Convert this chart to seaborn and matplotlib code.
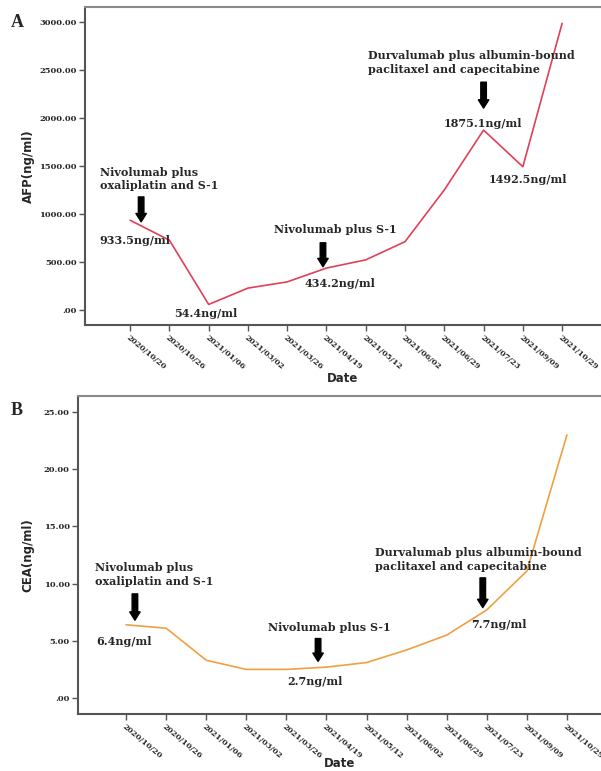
import matplotlib.pyplot as plt
import numpy as np
import pandas as pd
import seaborn as sns

dates = ["2020/10/20", "2020/10/26", "2021/01/06", "2021/03/02", "2021/03/26",
         "2021/04/19", "2021/05/12", "2021/06/02", "2021/06/29", "2021/07/23",
         "2021/09/09", "2021/10/29"]
afp = [933.5, 725, 54.4, 225, 290, 434.2, 520, 710, 1250, 1875.1, 1492.5, 2990]
cea = [6.4, 6.1, 3.3, 2.5, 2.5, 2.7, 3.1, 4.2, 5.5, 7.7, 11.1, 23.0]
afp_ticks = [0, 500, 1000, 1500, 2000, 2500, 3000]
cea_ticks = [0, 5, 10, 15, 20, 25]

df = pd.DataFrame({"pos": np.arange(len(dates)), "date": dates, "afp": afp, "cea": cea})

sns.set_style("white")
plt.rcParams["font.family"] = ["DejaVu Sans"]

serif = "DejaVu Serif"
fig = plt.figure(figsize=(6.01, 7.71), dpi=100)
ax1 = fig.add_axes([0.1414, 0.5785, 0.8586, 0.4124])
ax2 = fig.add_axes([0.1298, 0.0739, 0.8702, 0.4125])


def style_axes(ax, ticks, ylim, xlim, ylabel, ylab_x, xlab_y):
    ax.set_xlim(*xlim)
    ax.set_ylim(*ylim)
    ax.set_yticks(ticks)
    ax.set_yticklabels([".00" if t == 0 else f"{t:.2f}" for t in ticks],
                       family=serif, fontweight="bold", fontsize=6)
    ax.set_xticks(df["pos"])
    ax.set_xticklabels(df["date"], rotation=-40, ha="left", rotation_mode="anchor",
                       family=serif, fontweight="bold", fontsize=5.6)
    ax.tick_params(axis="both", length=4, width=1, color="#555555", pad=2,
                   bottom=True, left=True)
    ax.set_ylabel(ylabel, fontsize=8.5, fontweight="bold", va="center")
    ax.set_xlabel("Date", fontsize=8.5, fontweight="bold", va="center")
    ax.yaxis.set_label_coords(ylab_x, 0.5)
    ax.xaxis.set_label_coords(0.5, xlab_y)
    for s in ["left", "bottom"]:
        ax.spines[s].set_color("#555555")
        ax.spines[s].set_linewidth(1.5)
    ax.spines["top"].set_color("#8a8a8a")
    ax.spines["top"].set_linewidth(1.5)
    ax.spines["right"].set_visible(False)


def note(ax, text, x, y, **kw):
    ax.text(x, y, text, family=serif, fontweight="bold", fontsize=8, **kw)


def arrow(ax, x, y0, y1):
    ax.annotate("", xy=(x, y1), xytext=(x, y0),
                arrowprops=dict(arrowstyle="simple,head_width=0.75,head_length=0.6,tail_width=0.4",
                                color="black", shrinkA=0, shrinkB=0))


sns.lineplot(data=df, x="pos", y="afp", ax=ax1, color="#e0405a", linewidth=1.2)
style_axes(ax1, afp_ticks, (-160, 3160), (-1.15, 11.99), "AFP(ng/ml)", -0.11, -0.167)

note(ax1, "Nivolumab plus\noxaliplatin and S-1", -0.76, 1365, va="center", linespacing=1.3)
arrow(ax1, 0.28, 1177, 917)
note(ax1, "933.5ng/ml", 0.13, 719, ha="center", va="center")
note(ax1, "54.4ng/ml", 1.93, -42, ha="center", va="center")
note(ax1, "Nivolumab plus S-1", 5.22, 833, ha="center", va="center")
arrow(ax1, 4.91, 698, 448)
note(ax1, "434.2ng/ml", 5.34, 271, ha="center", va="center")
note(ax1, "Durvalumab plus albumin-bound\npaclitaxel and capecitabine", 6.06, 2583,
     va="center", linespacing=1.3)
arrow(ax1, 9.0, 2375, 2104)
note(ax1, "1875.1ng/ml", 8.98, 1948, ha="center", va="center")
note(ax1, "1492.5ng/ml", 10.13, 1354, ha="center", va="center")

sns.lineplot(data=df, x="pos", y="cea", ax=ax2, color="#f0a040", linewidth=1.2)
style_axes(ax2, cea_ticks, (-1.4, 26.4), (-1.2, 11.85), "CEA(ng/ml)", -0.096, -0.157)

note(ax2, "Nivolumab plus\noxaliplatin and S-1", -0.77, 10.8, va="center", linespacing=1.3)
arrow(ax2, 0.22, 9.1, 6.8)
note(ax2, "6.4ng/ml", -0.05, 4.9, ha="center", va="center")
note(ax2, "Nivolumab plus S-1", 5.06, 6.2, ha="center", va="center")
arrow(ax2, 4.79, 5.2, 3.2)
note(ax2, "2.7ng/ml", 4.7, 1.4, ha="center", va="center")
note(ax2, "Durvalumab plus albumin-bound\npaclitaxel and capecitabine", 6.21, 12.1,
     va="center", linespacing=1.3)
arrow(ax2, 8.9, 10.5, 7.9)
note(ax2, "7.7ng/ml", 9.3, 6.4, ha="center", va="center")

fig.text(0.018, 0.965, "A", family="Liberation Serif", fontweight="bold", fontsize=13)
fig.text(0.018, 0.462, "B", family="Liberation Serif", fontweight="bold", fontsize=13)

plt.savefig("out.png", dpi=100)
